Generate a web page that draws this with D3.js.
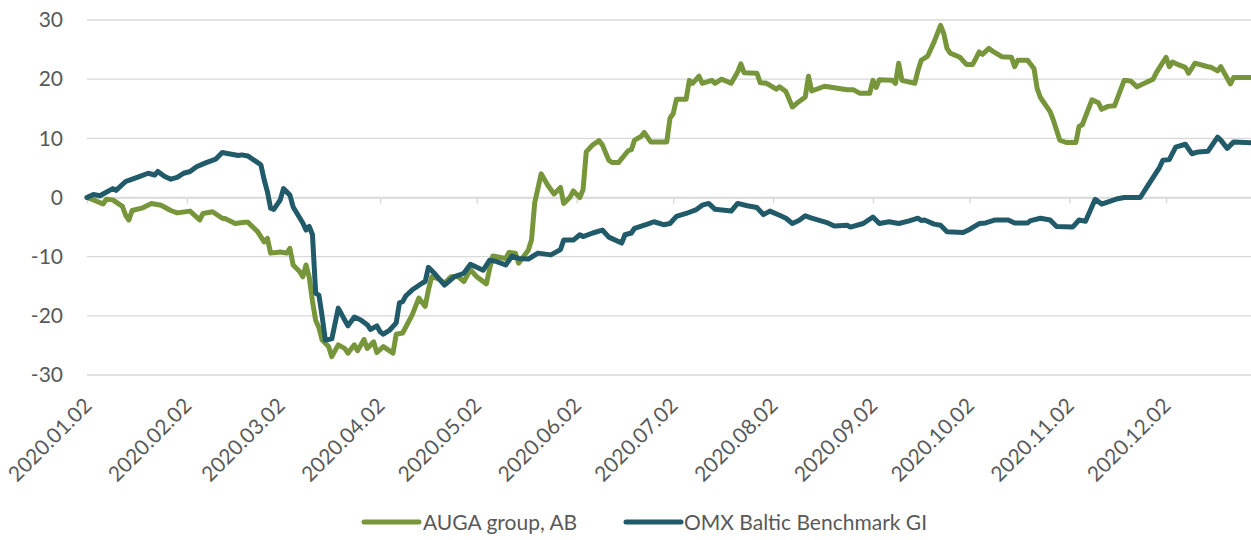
<!DOCTYPE html>
<html>
<head>
<meta charset="utf-8">
<script src="https://cdn.jsdelivr.net/npm/d3@7"></script>
<style>
  html, body { margin: 0; padding: 0; background: #ffffff; }
  svg { display: block; }
  text { font-family: Lato, "Noto Sans", sans-serif; fill: #595959; }
</style>
</head>
<body>
<svg id="chart" width="1251" height="540"></svg>
<script>
// ---------- data ----------
const seriesNames = ["AUGA group, AB", "OMX Baltic Benchmark GI"];
const yTicks = [-30, -20, -10, 0, 10, 20, 30];
const tickDates = ["2020-01-02","2020-02-02","2020-03-02","2020-04-02","2020-05-02","2020-06-02",
                   "2020-07-02","2020-08-02","2020-09-02","2020-10-02","2020-11-02","2020-12-02"];

const auga = [
["2020-01-02",0],["2020-01-04",-0.4],["2020-01-07",-1.1],["2020-01-08",-0.3],["2020-01-10",-0.4],
["2020-01-13",-1.5],["2020-01-14",-3.0],["2020-01-15",-3.8],["2020-01-16",-2.2],["2020-01-19",-1.8],
["2020-01-22",-1.0],["2020-01-25",-1.3],["2020-01-28",-2.2],["2020-01-30",-2.6],["2020-02-03",-2.3],
["2020-02-06",-3.8],["2020-02-07",-2.7],["2020-02-10",-2.4],["2020-02-13",-3.5],["2020-02-14",-3.6],
["2020-02-17",-4.4],["2020-02-20",-4.2],["2020-02-21",-4.2],["2020-02-24",-5.8],["2020-02-26",-7.5],
["2020-02-27",-6.9],["2020-02-28",-9.4],["2020-03-02",-9.2],["2020-03-04",-9.4],["2020-03-05",-8.6],
["2020-03-06",-11.4],["2020-03-08",-12.5],["2020-03-09",-13.4],["2020-03-10",-11.4],["2020-03-11",-13.5],
["2020-03-12",-17.5],["2020-03-13",-20.8],["2020-03-14",-22.0],["2020-03-15",-24.1],["2020-03-17",-25.2],
["2020-03-18",-26.9],["2020-03-20",-24.9],["2020-03-22",-25.5],["2020-03-23",-26.3],["2020-03-25",-24.9],
["2020-03-26",-25.9],["2020-03-28",-24.0],["2020-03-29",-25.5],["2020-03-31",-24.4],["2020-04-01",-26.2],
["2020-04-03",-25.2],["2020-04-06",-26.3],["2020-04-07",-23.1],["2020-04-09",-22.9],["2020-04-12",-19.8],
["2020-04-14",-17.0],["2020-04-16",-18.4],["2020-04-17",-15.6],["2020-04-18",-13.4],["2020-04-20",-13.7],
["2020-04-22",-14.5],["2020-04-24",-13.4],["2020-04-26",-13.3],["2020-04-28",-14.2],["2020-04-30",-12.2],
["2020-05-02",-13.4],["2020-05-05",-14.6],["2020-05-06",-12.0],["2020-05-07",-9.9],["2020-05-11",-10.3],
["2020-05-12",-9.3],["2020-05-14",-9.4],["2020-05-15",-11.1],["2020-05-18",-8.9],["2020-05-19",-7.2],
["2020-05-20",-0.9],["2020-05-22",4.0],["2020-05-24",2.1],["2020-05-26",0.6],["2020-05-28",1.7],
["2020-05-29",-1.0],["2020-05-31",0.1],["2020-06-01",1.1],["2020-06-03",0.0],["2020-06-04",1.3],
["2020-06-05",7.7],["2020-06-07",8.9],["2020-06-09",9.6],["2020-06-10",8.9],["2020-06-12",6.3],
["2020-06-13",5.9],["2020-06-15",5.9],["2020-06-18",7.9],["2020-06-19",8.1],["2020-06-20",9.7],
["2020-06-22",10.3],["2020-06-23",11.0],["2020-06-25",9.4],["2020-06-30",9.4],["2020-07-01",13.4],
["2020-07-02",14.2],["2020-07-03",16.6],["2020-07-06",16.6],["2020-07-07",19.8],["2020-07-08",19.3],
["2020-07-10",20.5],["2020-07-11",19.3],["2020-07-14",19.8],["2020-07-15",19.3],["2020-07-17",20.0],
["2020-07-20",19.3],["2020-07-22",21.2],["2020-07-23",22.6],["2020-07-24",21.1],["2020-07-28",21.0],
["2020-07-29",19.4],["2020-07-31",19.3],["2020-08-03",18.3],["2020-08-04",18.7],["2020-08-06",17.9],
["2020-08-08",15.3],["2020-08-10",16.2],["2020-08-12",17.0],["2020-08-13",20.5],["2020-08-14",18.0],
["2020-08-18",18.8],["2020-08-25",18.2],["2020-08-27",18.2],["2020-08-29",17.6],["2020-09-01",17.6],
["2020-09-02",19.8],["2020-09-03",18.6],["2020-09-04",19.9],["2020-09-08",19.8],["2020-09-09",19.3],
["2020-09-10",22.7],["2020-09-11",19.8],["2020-09-15",19.3],["2020-09-16",21.5],["2020-09-17",23.2],
["2020-09-19",23.9],["2020-09-21",26.3],["2020-09-23",29.1],["2020-09-24",27.7],["2020-09-25",25.2],
["2020-09-26",24.4],["2020-09-29",23.7],["2020-10-01",22.5],["2020-10-03",22.5],["2020-10-05",24.6],
["2020-10-06",24.2],["2020-10-08",25.2],["2020-10-09",24.8],["2020-10-12",23.8],["2020-10-15",23.7],
["2020-10-16",22.1],["2020-10-17",23.2],["2020-10-20",23.2],["2020-10-22",21.8],["2020-10-23",18.4],
["2020-10-24",16.9],["2020-10-27",14.5],["2020-10-28",13.1],["2020-10-30",9.7],["2020-11-01",9.3],
["2020-11-04",9.3],["2020-11-05",12.0],["2020-11-06",12.3],["2020-11-09",16.5],["2020-11-11",16.0],
["2020-11-12",14.9],["2020-11-14",15.4],["2020-11-16",15.5],["2020-11-19",19.8],["2020-11-21",19.7],
["2020-11-23",18.7],["2020-11-26",19.5],["2020-11-28",20.0],["2020-11-29",21.1],["2020-12-02",23.7],
["2020-12-03",22.1],["2020-12-04",22.9],["2020-12-06",22.4],["2020-12-08",22.0],["2020-12-09",21.0],
["2020-12-11",22.7],["2020-12-15",22.1],["2020-12-16",22.0],["2020-12-18",21.4],["2020-12-19",22.1],
["2020-12-22",19.2],["2020-12-23",20.3],["2020-12-30",20.3]
];

const omx = [
["2020-01-02",0],["2020-01-04",0.5],["2020-01-06",0.3],["2020-01-10",1.5],["2020-01-11",1.2],
["2020-01-14",2.7],["2020-01-15",2.9],["2020-01-18",3.5],["2020-01-21",4.1],["2020-01-23",3.8],
["2020-01-24",4.4],["2020-01-26",3.6],["2020-01-28",3.1],["2020-01-30",3.4],["2020-02-01",4.1],
["2020-02-03",4.4],["2020-02-05",5.2],["2020-02-08",5.9],["2020-02-11",6.5],["2020-02-13",7.6],
["2020-02-15",7.4],["2020-02-18",7.1],["2020-02-19",7.2],["2020-02-21",7.0],["2020-02-24",5.9],
["2020-02-25",5.5],["2020-02-26",3.0],["2020-02-27",1.0],["2020-02-28",-1.8],["2020-02-29",-2.0],
["2020-03-02",-0.4],["2020-03-03",1.5],["2020-03-05",0.4],["2020-03-06",-1.6],["2020-03-09",-4.3],
["2020-03-10",-5.5],["2020-03-11",-4.9],["2020-03-12",-6.3],["2020-03-13",-16.2],["2020-03-14",-16.5],
["2020-03-15",-20.1],["2020-03-16",-24.1],["2020-03-18",-23.9],["2020-03-20",-18.7],["2020-03-22",-20.7],
["2020-03-23",-21.7],["2020-03-25",-20.2],["2020-03-27",-20.7],["2020-03-29",-21.5],["2020-03-30",-22.3],
["2020-04-01",-21.7],["2020-04-02",-22.7],["2020-04-03",-23.1],["2020-04-05",-22.4],["2020-04-07",-21.2],
["2020-04-08",-17.8],["2020-04-09",-17.6],["2020-04-10",-16.6],["2020-04-12",-15.6],["2020-04-15",-14.5],
["2020-04-16",-14.2],["2020-04-17",-11.8],["2020-04-19",-12.9],["2020-04-22",-14.8],["2020-04-25",-13.4],
["2020-04-28",-12.8],["2020-04-30",-11.3],["2020-05-02",-11.8],["2020-05-04",-12.3],["2020-05-06",-10.6],
["2020-05-08",-10.8],["2020-05-11",-11.4],["2020-05-13",-9.9],["2020-05-15",-10.3],["2020-05-18",-10.4],
["2020-05-21",-9.4],["2020-05-25",-9.7],["2020-05-28",-8.8],["2020-05-29",-7.2],["2020-06-01",-7.2],
["2020-06-03",-6.3],["2020-06-04",-6.6],["2020-06-07",-6.0],["2020-06-10",-5.5],["2020-06-12",-6.7],
["2020-06-16",-7.7],["2020-06-17",-6.3],["2020-06-19",-6.0],["2020-06-20",-5.2],["2020-06-24",-4.5],
["2020-06-26",-4.1],["2020-06-29",-4.6],["2020-07-01",-4.4],["2020-07-03",-3.2],["2020-07-06",-2.7],
["2020-07-09",-2.1],["2020-07-11",-1.3],["2020-07-13",-1.0],["2020-07-15",-2.0],["2020-07-20",-2.3],
["2020-07-22",-1.0],["2020-07-25",-1.4],["2020-07-28",-1.7],["2020-07-30",-2.9],["2020-08-01",-2.3],
["2020-08-04",-3.0],["2020-08-06",-3.5],["2020-08-08",-4.4],["2020-08-10",-3.9],["2020-08-12",-3.1],
["2020-08-14",-3.5],["2020-08-19",-4.3],["2020-08-21",-4.8],["2020-08-25",-4.7],["2020-08-26",-5.0],
["2020-08-30",-4.4],["2020-09-02",-3.3],["2020-09-04",-4.4],["2020-09-07",-4.1],["2020-09-10",-4.4],
["2020-09-13",-4.0],["2020-09-16",-3.5],["2020-09-17",-3.9],["2020-09-18",-3.8],["2020-09-21",-4.5],
["2020-09-23",-4.7],["2020-09-25",-5.8],["2020-09-30",-5.9],["2020-10-02",-5.4],["2020-10-05",-4.4],
["2020-10-07",-4.3],["2020-10-10",-3.8],["2020-10-14",-3.8],["2020-10-16",-4.3],["2020-10-20",-4.3],
["2020-10-21",-3.9],["2020-10-24",-3.5],["2020-10-27",-3.8],["2020-10-29",-4.9],["2020-11-03",-5.0],
["2020-11-05",-3.8],["2020-11-07",-4.0],["2020-11-10",-0.3],["2020-11-12",-1.1],["2020-11-17",-0.2],
["2020-11-19",0.0],["2020-11-24",0.0],["2020-11-26",1.7],["2020-11-30",5.1],["2020-12-01",6.3],
["2020-12-03",6.4],["2020-12-05",8.5],["2020-12-08",9.0],["2020-12-10",7.4],["2020-12-12",7.7],
["2020-12-15",7.8],["2020-12-18",10.2],["2020-12-19",9.7],["2020-12-21",8.3],["2020-12-23",9.4],
["2020-12-30",9.2]
];

const colors = ["#77963b", "#215a69"];

// ---------- layout ----------
const W = 1251, H = 540;
const left = 87, plotRight = 1251;
const parse = d3.utcParse("%Y-%m-%d");
const fmt = d3.utcFormat("%Y.%m.%d");

const x = d3.scaleUtc()
  .domain([parse("2020-01-02"), parse("2020-12-30")])
  .range([left, left + 363 * 3.221]);
const y = d3.scaleLinear().domain([-30, 30]).range([375, 20]);

const svg = d3.select("#chart");

// gridlines
svg.append("g").selectAll("line").data(yTicks).join("line")
  .attr("x1", left).attr("x2", plotRight)
  .attr("y1", d => y(d)).attr("y2", d => y(d))
  .attr("stroke", "#d9d9d9").attr("stroke-width", 1.4);

// y axis labels
const yAxis = svg.append("g").attr("transform", `translate(${left},0)`)
  .call(d3.axisLeft(y).tickValues(yTicks).tickSize(0).tickPadding(24).tickFormat(d => String(d)));
yAxis.select(".domain").remove();
yAxis.selectAll("text").attr("font-size", 21).attr("font-family", "Lato").attr("fill", "#595959");

// x axis line at 0 with ticks
const xAxis = svg.append("g").attr("transform", `translate(0,${y(0)})`)
  .call(d3.axisBottom(x).tickValues(tickDates.map(parse)).tickSize(6).tickSizeOuter(0).tickFormat(""));
xAxis.select(".domain").attr("stroke", "#d9d9d9").attr("stroke-width", 1.4);
xAxis.selectAll(".tick line").attr("stroke", "#d9d9d9").attr("stroke-width", 1.4);

// x labels at bottom, rotated
svg.append("g").selectAll("text").data(tickDates).join("text")
  .attr("transform", d => `translate(${x(parse(d)) + 6},407) rotate(-45)`)
  .attr("text-anchor", "end")
  .attr("font-size", 21)
  .text(d => fmt(parse(d)));

// lines (AUGA first, OMX drawn on top)
const line = d3.line().x(d => x(parse(d[0]))).y(d => y(d[1])).curve(d3.curveLinear);
svg.append("clipPath").attr("id", "clip").append("rect")
  .attr("x", left - 4).attr("y", 0).attr("width", plotRight - left + 4).attr("height", H);
const lines = svg.append("g").attr("clip-path", "url(#clip)");
[auga, omx].forEach((s, i) => {
  lines.append("path").datum(s)
    .attr("d", line)
    .attr("fill", "none")
    .attr("stroke", colors[i])
    .attr("stroke-width", 5)
    .attr("stroke-linejoin", "round")
    .attr("stroke-linecap", "round");
});

// legend
const legendItems = [
  {name: seriesNames[0], color: colors[0], x0: 364, x1: 419, tx: 423},
  {name: seriesNames[1], color: colors[1], x0: 626, x1: 681, tx: 684}
];
const lg = svg.append("g");
legendItems.forEach(it => {
  lg.append("line").attr("x1", it.x0).attr("x2", it.x1).attr("y1", 522).attr("y2", 522)
    .attr("stroke", it.color).attr("stroke-width", 5).attr("stroke-linecap", "round");
  lg.append("text").attr("x", it.tx).attr("y", 530).attr("font-size", 21).text(it.name);
});
</script>
</body>
</html>
